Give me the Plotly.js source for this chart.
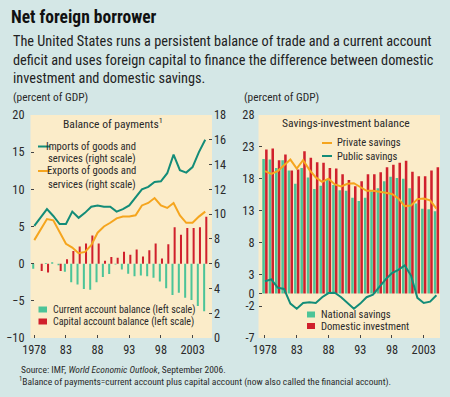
<!DOCTYPE html>
<html>
<head>
<meta charset="utf-8">
<script src="https://cdn.plot.ly/plotly-3.0.1.min.js"></script>
<style>
html,body{margin:0;padding:0;background:#d4e7e6;}
#chart{width:450px;height:397px;}
</style>
</head>
<body>
<div id="chart"></div>
<script>
// ---- data ----
const years = [1978,1979,1980,1981,1982,1983,1984,1985,1986,1987,1988,1989,1990,1991,1992,1993,1994,1995,1996,1997,1998,1999,2000,2001,2002,2003,2004,2005];
const tickYears = [1978,1983,1988,1993,1998,2003];
const tickLabels = ["1978","83","88","93","98","2003"];

// Balance of payments panel (percent of GDP)
const currentAccount = [-0.7,0.0,0.1,0.2,-0.2,-1.1,-2.5,-2.8,-3.4,-3.5,-2.5,-1.8,-1.4,-0.1,-0.8,-1.35,-1.7,-1.6,-1.7,-1.9,-2.4,-3.3,-4.2,-3.9,-4.6,-4.9,-5.7,-6.4];
const capitalAccount = [0.0,-1.0,-1.2,0.0,-1.0,0.6,1.7,2.3,2.7,3.8,2.7,0.4,0.9,0.8,1.6,1.2,1.9,0.95,1.8,2.7,0.7,2.6,4.9,3.9,4.8,4.8,4.9,6.3];
const imports = [9.05,9.7,10.4,9.85,9.2,9.2,10.2,9.7,10.1,10.6,10.7,10.6,10.6,10.2,10.4,10.7,11.35,12.0,12.2,12.6,12.65,13.3,14.8,13.55,13.35,13.8,15.0,16.0];
const exports = [7.9,8.8,9.6,9.5,8.6,7.6,7.3,6.85,6.95,7.5,8.5,9.0,9.3,9.66,9.8,9.8,9.9,10.7,10.9,11.3,10.7,10.5,10.9,9.9,9.3,9.3,9.8,10.2];

// Savings-investment panel (percent of GDP)
const nationalSavings = [21.1,21.0,19.7,20.9,19.3,17.2,19.7,18.2,16.4,16.9,17.9,17.0,16.2,16.1,15.0,14.5,15.0,16.0,16.5,17.6,18.3,18.1,18.0,16.5,14.1,13.3,13.2,12.9];
const domesticInvestment = [22.6,22.75,20.9,21.8,19.3,19.45,22.3,21.3,20.6,20.5,19.7,19.6,18.7,17.8,16.8,17.6,18.7,18.7,19.0,19.8,20.2,20.5,20.8,19.1,18.4,18.4,19.3,19.8];
const privateSavings = [19.2,18.75,19.2,20.1,21.0,19.6,20.9,19.4,18.2,17.5,18.0,17.1,16.8,17.2,17.3,16.7,16.1,16.1,16.0,15.8,15.6,14.9,13.7,13.8,14.8,14.9,14.6,13.3];
const publicSavings = [1.9,2.2,0.9,0.7,-1.6,-2.4,-1.5,-1.4,-1.5,-0.6,0.05,0.1,-0.6,-1.5,-2.4,-1.6,-0.6,-0.2,1.0,2.2,3.2,3.7,4.4,2.8,-0.7,-1.5,-1.3,-0.3];
const rightTicks = [28,23,18,13,8,3,0,-2,-7];

// ---- styling ----
const FONT = "'Roboto Condensed','Liberation Sans',sans-serif";
const TEAL = "#138c78", MINT = "#4cc498", RED = "#d0202c", ORANGE = "#f5a51e";
const TXT = "#2a2a2a";
const W = 450, H = 397;
const px = v => v / W;
const py = v => 1 - v / H;

const traces = [
  {type:"bar", x:years, y:currentAccount, name:"Current account balance (left scale)", xaxis:"x", yaxis:"y",
   marker:{color:MINT}, width:0.32, offset:-0.33, showlegend:false},
  {type:"bar", x:years, y:capitalAccount, name:"Capital account balance (left scale)", xaxis:"x", yaxis:"y",
   marker:{color:RED}, width:0.32, offset:0.01, showlegend:false},
  {type:"scatter", mode:"lines", x:years, y:imports, name:"Imports of goods and services (right scale)", xaxis:"x", yaxis:"y2",
   line:{color:TEAL, width:2}, showlegend:false},
  {type:"scatter", mode:"lines", x:years, y:exports, name:"Exports of goods and services (right scale)", xaxis:"x", yaxis:"y2",
   line:{color:ORANGE, width:2}, showlegend:false},
  {type:"bar", x:years, y:nationalSavings, name:"National savings", xaxis:"x2", yaxis:"y3",
   marker:{color:MINT}, width:0.4, offset:-0.42, showlegend:false},
  {type:"bar", x:years, y:domesticInvestment, name:"Domestic investment", xaxis:"x2", yaxis:"y3",
   marker:{color:RED}, width:0.4, offset:0.02, showlegend:false},
  {type:"scatter", mode:"lines", x:years, y:privateSavings, name:"Private savings", xaxis:"x2", yaxis:"y3",
   line:{color:ORANGE, width:2}, showlegend:false},
  {type:"scatter", mode:"lines", x:years, y:publicSavings, name:"Public savings", xaxis:"x2", yaxis:"y3",
   line:{color:TEAL, width:2}, showlegend:false}
];

const axisCommon = {
  showgrid:false, zeroline:false, showline:false,
  ticks:"inside", ticklen:3, tickwidth:1, tickcolor:"#444",
  tickfont:{family:FONT, size:12.3, color:TXT}, fixedrange:true
};

const leftDom = [py(338), py(115)], leftRange = [-10, 20];
const rightDom = [py(338), py(115)], rightRange = [-7, 28];
const zeroPos = (dom, r) => dom[0] + (0 - r[0]) / (r[1] - r[0]) * (dom[1] - dom[0]);
const xLeftRange = [1977.4, 2006.07], xRightRange = [1976.98, 2005.56];

const layout = {
  width:W, height:H,
  paper_bgcolor:"#d4e7e6", plot_bgcolor:"#fbecc9",
  margin:{l:0, r:0, t:0, b:0},
  barmode:"overlay",
  font:{family:FONT, color:TXT},
  title:{text:"<b>Net foreign borrower</b>", x:px(11), xanchor:"left", y:py(17), yanchor:"middle",
         font:{family:FONT, size:17.5, color:"#111"}},
  xaxis:Object.assign({}, axisCommon, {domain:[px(30.5), px(212)], range:xLeftRange, anchor:"y",
         tickvals:tickYears, ticktext:tickLabels, ticklabelstandoff:3}),
  yaxis:Object.assign({}, axisCommon, {domain:leftDom, range:leftRange, dtick:5, anchor:"x",
         ticklabelstandoff:5}),
  yaxis2:Object.assign({}, axisCommon, {range:[0,18], dtick:2, overlaying:"y", side:"right", anchor:"x",
         ticklabelstandoff:1}),
  // zero line with a tick at every year (left panel)
  xaxis3:Object.assign({}, axisCommon, {overlaying:"x", anchor:"free", position:zeroPos(leftDom, leftRange),
         range:xLeftRange, tickvals:years, showticklabels:false, showline:true, linecolor:"#555", linewidth:1,
         ticklen:3.5, tickcolor:"#555"}),
  xaxis2:Object.assign({}, axisCommon, {domain:[px(258.5), px(440)], range:xRightRange, anchor:"y3",
         tickvals:tickYears, ticktext:tickLabels, ticklabelstandoff:3}),
  yaxis3:Object.assign({}, axisCommon, {domain:rightDom, range:rightRange, anchor:"x2",
         tickvals:rightTicks, ticktext:rightTicks.map(String), ticklabelstandoff:3}),
  // zero line with a tick at every year (right panel)
  xaxis4:Object.assign({}, axisCommon, {overlaying:"x2", anchor:"free", position:zeroPos(rightDom, rightRange),
         range:xRightRange, tickvals:years, showticklabels:false, showline:true, linecolor:"#555", linewidth:1,
         ticklen:3.5, tickcolor:"#555"}),
  annotations:[],
  shapes:[]
};

function ann(text, x, y, opts){
  layout.annotations.push(Object.assign({text:text, x:px(x), y:py(y), xref:"paper", yref:"paper",
    xanchor:"left", yanchor:"middle", showarrow:false, font:{family:FONT, size:10.6, color:TXT}}, opts||{}));
}
function sub(text, y){ ann(text, 11, y, {font:{family:FONT, size:14.3, color:"#222"}}); }

sub("The United States runs a persistent balance of trade and a current account", 41);
sub("deficit and uses foreign capital to finance the difference between domestic", 59.5);
sub("investment and domestic savings.", 77.5);

ann("(percent of GDP)", 11, 97, {font:{family:FONT, size:11.4, color:TXT}});
ann("(percent of GDP)", 242, 97, {font:{family:FONT, size:11.4, color:TXT}});

ann("Balance of payments<sup>1</sup>", 112.5, 123, {xanchor:"center", font:{family:FONT, size:11.6, color:TXT}});
ann("Savings-investment balance", 345.5, 123, {xanchor:"center", font:{family:FONT, size:11.6, color:TXT}});

ann("Imports of goods and", 137.5, 146.7, {xanchor:"right"});
ann("services (right scale)", 137.5, 158.5, {xanchor:"right"});
ann("Exports of goods and", 137.5, 171, {xanchor:"right"});
ann("services (right scale)", 137.5, 184, {xanchor:"right"});
ann("Current account balance (left scale)", 50.5, 310, {font:{family:FONT, size:10.1, color:TXT}});
ann("Capital account balance (left scale)", 50.5, 322.3, {font:{family:FONT, size:10.1, color:TXT}});

ann("Private savings", 335, 143);
ann("Public savings", 335, 156.3);
ann("National savings", 319, 314.7);
ann("Domestic investment", 319, 326.5);

ann("Source: IMF, <i>World Economic Outlook</i>, September 2006.", 19, 369.5, {font:{family:FONT, size:9.5, color:TXT}});
ann("<sup>1</sup>Balance of payments=current account plus capital account (now also called the financial account).", 17, 381.5, {font:{family:FONT, size:9.5, color:TXT}});

// legend keys
function keyLine(x0, x1, y, color){
  layout.shapes.push({type:"line", xref:"paper", yref:"paper", x0:px(x0), x1:px(x1), y0:py(y), y1:py(y), line:{color:color, width:2}});
}
function keyBox(x0, x1, y0, y1, color){
  layout.shapes.push({type:"rect", xref:"paper", yref:"paper", x0:px(x0), x1:px(x1), y0:py(y1), y1:py(y0), fillcolor:color, line:{width:0}});
}
keyLine(38, 50, 146.5, TEAL);
keyLine(38, 50, 171, ORANGE);
keyBox(38.5, 47, 306.5, 312.5, MINT);
keyBox(38.5, 47, 318.5, 324.5, RED);
keyLine(322, 332, 143, ORANGE);
keyLine(322, 332, 156, TEAL);
keyBox(307, 315, 311.5, 317.5, MINT);
keyBox(307, 315, 323, 329, RED);

Plotly.newPlot("chart", traces, layout, {displayModeBar:false, staticPlot:true});
</script>
</body>
</html>
